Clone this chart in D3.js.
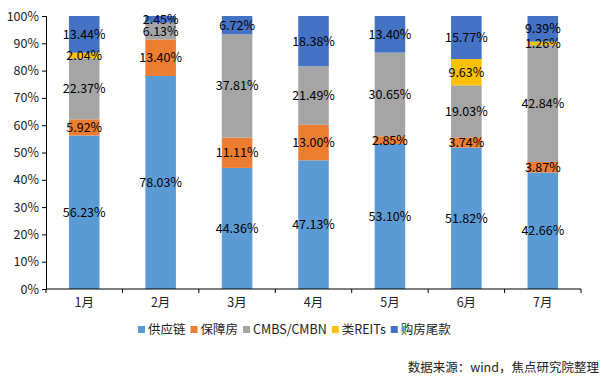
<!DOCTYPE html>
<html>
<head>
<meta charset="utf-8">
<script src="https://cdn.jsdelivr.net/npm/d3@7"></script>
<style>
  body { margin: 0; background: #fff; }
  svg { font-family: "Noto Sans CJK SC", "Microsoft YaHei", sans-serif; }
</style>
</head>
<body>
<div id="chart"></div>
<script>
// months on the x axis
const months = ['1月', '2月', '3月', '4月', '5月', '6月', '7月'];
// series names, bottom to top
const seriesNames = ['供应链', '保障房', 'CMBS/CMBN', '类REITs', '购房尾款'];
const seriesColors = ['#5B9BD5', '#ED7D31', '#A5A5A5', '#FFC000', '#4472C4'];
// values in percent
const supplyChain = [56.23, 78.03, 44.36, 47.13, 53.10, 51.82, 42.66];
const affordable = [5.92, 13.40, 11.11, 13.00, 2.85, 3.74, 3.87];
const cmbs = [22.37, 6.13, 37.81, 21.49, 30.65, 19.03, 42.84];
const reits = [2.04, 0, 0, 0, 0, 9.63, 1.26];
const tailPayment = [13.44, 2.45, 6.72, 18.38, 13.40, 15.77, 9.39];
const yTicks = [0, 10, 20, 30, 40, 50, 60, 70, 80, 90, 100];

const width = 601, height = 386;
const margin = { top: 16, right: 20, bottom: 97, left: 46 };

const svg = d3.select('#chart').append('svg')
  .attr('width', width)
  .attr('height', height);

const x = d3.scaleBand()
  .domain(months)
  .range([margin.left, width - margin.right])
  .paddingInner(0.6)
  .paddingOuter(0.3);

const y = d3.scaleLinear()
  .domain([0, 100])
  .range([height - margin.bottom, margin.top]);

// build rows for stacking
const rows = months.map((m, i) => ({
  month: m,
  '供应链': supplyChain[i],
  '保障房': affordable[i],
  'CMBS/CMBN': cmbs[i],
  '类REITs': reits[i],
  '购房尾款': tailPayment[i]
}));

// each month's total is ~100, normalise so the top sits at 100%
const stack = d3.stack().keys(seriesNames).offset(d3.stackOffsetExpand);
const stacked = stack(rows);

const color = d3.scaleOrdinal().domain(seriesNames).range(seriesColors);

const layers = svg.append('g').selectAll('g')
  .data(stacked)
  .join('g')
  .attr('fill', d => color(d.key));

layers.selectAll('rect')
  .data(d => d)
  .join('rect')
  .attr('x', d => x(d.data.month))
  .attr('width', x.bandwidth())
  .attr('y', d => y(d[1] * 100))
  .attr('height', d => y(d[0] * 100) - y(d[1] * 100));

// value labels
const labels = svg.append('g')
  .attr('font-size', 12.5)
  .attr('fill', '#000')
  .attr('text-anchor', 'middle');

stacked.forEach(layer => {
  layer.forEach(d => {
    const v = d.data[layer.key];
    if (!v) return;
    labels.append('text')
      .attr('x', x(d.data.month) + x.bandwidth() / 2)
      .attr('y', y((d[0] + d[1]) / 2 * 100))
      .attr('dy', '0.36em')
      .text(v.toFixed(2) + '%');
  });
});

// y axis
const yAxis = svg.append('g')
  .attr('transform', `translate(${margin.left},0)`)
  .call(d3.axisLeft(y).tickValues(yTicks).tickFormat(d => d + '%').tickSizeOuter(0).tickSize(4));
yAxis.selectAll('text').attr('font-size', 12.5).attr('fill', '#222').attr('font-family', 'Noto Sans CJK SC');
yAxis.select('.domain').attr('stroke', '#000');
yAxis.selectAll('.tick line').attr('stroke', '#000');

// x axis with tick marks at band edges
const xAxis = svg.append('g')
  .attr('transform', `translate(0,${height - margin.bottom})`);
xAxis.append('line')
  .attr('x1', margin.left).attr('x2', width - margin.right)
  .attr('stroke', '#000');
const edges = d3.range(months.length + 1).map(i => margin.left + i * (width - margin.left - margin.right) / months.length);
xAxis.selectAll('.edge')
  .data(edges)
  .join('line')
  .attr('x1', d => d).attr('x2', d => d)
  .attr('y1', 0).attr('y2', 4)
  .attr('stroke', '#000');
xAxis.selectAll('text')
  .data(months)
  .join('text')
  .attr('x', d => x(d) + x.bandwidth() / 2)
  .attr('y', 18)
  .attr('text-anchor', 'middle')
  .attr('font-size', 12.5)
  .attr('fill', '#222')
  .text(d => d);

// legend
const legend = svg.append('g').attr('font-size', 12.5).attr('fill', '#222');
let lx = 138;
const ly = 330;
seriesNames.forEach((name, i) => {
  legend.append('rect')
    .attr('x', lx).attr('y', ly - 4)
    .attr('width', 7).attr('height', 7)
    .attr('fill', seriesColors[i]);
  const t = legend.append('text')
    .attr('x', lx + 10).attr('y', ly)
    .attr('dy', '0.35em')
    .text(name);
  lx += 10 + t.node().getComputedTextLength() + 5;
});

// source note
svg.append('text')
  .attr('x', width - 2)
  .attr('y', 372)
  .attr('text-anchor', 'end')
  .attr('font-size', 12.5)
  .attr('fill', '#222')
  .text('数据来源：wind，焦点研究院整理');
</script>
</body>
</html>
